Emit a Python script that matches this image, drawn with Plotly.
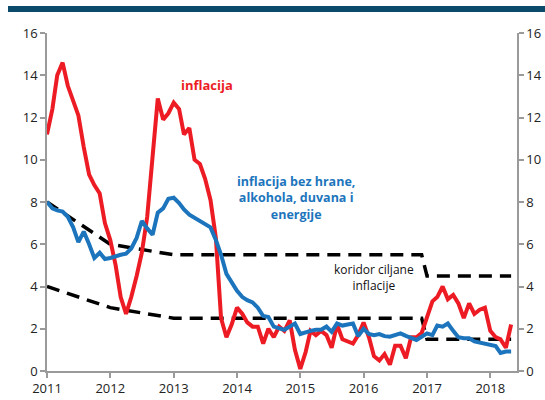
import pandas as pd
import plotly.graph_objects as go

# Monthly data, Jan 2011 - May 2018
inflacija = [11.2, 12.4, 14.0, 14.6, 13.5, 12.8, 12.1, 10.6, 9.3, 8.8, 8.4, 7.0,
             6.2, 5.0, 3.5, 2.7, 3.5, 4.5, 5.6, 7.3, 10.2, 12.9, 11.9, 12.2,
             12.7, 12.4, 11.2, 11.5, 10.0, 9.8, 9.1, 8.1, 6.3, 2.5, 1.6, 2.2,
             3.0, 2.7, 2.3, 2.1, 2.1, 1.3, 2.0, 1.6, 2.1, 1.9, 2.4, 1.0,
             0.1, 0.9, 1.9, 1.7, 1.9, 1.7, 1.1, 2.2, 1.5, 1.4, 1.3, 1.7,
             2.3, 1.6, 0.7, 0.5, 0.8, 0.3, 1.2, 1.2, 0.6, 1.6, 1.6, 1.8,
             2.6, 3.3, 3.5, 4.0, 3.4, 3.6, 3.2, 2.5, 3.2, 2.7, 2.9, 3.0,
             1.9, 1.6, 1.5, 1.1, 2.2]
bazna = [8.0, 7.7, 7.6, 7.55, 7.3, 6.8, 6.1, 6.6, 6.0, 5.35, 5.6, 5.3,
         5.35, 5.45, 5.5, 5.55, 5.8, 6.3, 7.1, 6.75, 6.45, 7.5, 7.7, 8.15,
         8.2, 7.95, 7.65, 7.4, 7.25, 7.15, 7.0, 6.8, 6.2, 5.5, 4.6, 4.2,
         3.8, 3.5, 3.35, 3.25, 3.0, 2.6, 2.55, 2.1, 2.0, 1.95, 2.1, 2.25,
         1.75, 1.85, 1.9, 1.95, 1.95, 2.1, 1.85, 2.25, 2.15, 2.2, 2.25, 1.65,
         2.0, 1.75, 1.7, 1.75, 1.65, 1.62, 1.7, 1.78, 1.66, 1.55, 1.47, 1.62,
         1.78, 1.7, 2.15, 2.1, 2.25, 1.9, 1.6, 1.55, 1.55, 1.4, 1.35, 1.32,
         1.25, 1.18, 0.85, 0.92, 0.92]
months = pd.date_range("2011-01-01", periods=len(inflacija), freq="MS")

koridor_dates = ["2011-01-01", "2012-01-01", "2013-01-01", "2016-12-01", "2017-01-01", "2018-05-01"]
koridor_gornja = [8.0, 6.0, 5.5, 5.5, 4.5, 4.5]
koridor_donja = [4.0, 3.0, 2.5, 2.5, 1.5, 1.5]

year_ticks = ["2011-01-01", "2012-01-01", "2013-01-01", "2014-01-01",
              "2015-01-01", "2016-01-01", "2017-01-01", "2018-01-01"]
year_labels = ["2011", "2012", "2013", "2014", "2015", "2016", "2017", "2018"]
y_ticks = [0, 2, 4, 6, 8, 10, 12, 14, 16]

RED = "#ed1c24"
BLUE = "#1c75bc"
FONT = "Open Sans"

fig = go.Figure()
dash = "13px,8px"
fig.add_trace(go.Scatter(x=koridor_dates, y=koridor_gornja, mode="lines",
                         line=dict(color="black", width=3.5, dash=dash), hoverinfo="skip"))
fig.add_trace(go.Scatter(x=koridor_dates, y=koridor_donja, mode="lines",
                         line=dict(color="black", width=3.5, dash=dash), hoverinfo="skip"))
fig.add_trace(go.Scatter(x=months, y=inflacija, mode="lines",
                         line=dict(color=RED, width=4)))
fig.add_trace(go.Scatter(x=months, y=bazna, mode="lines",
                         line=dict(color=BLUE, width=4)))
# invisible trace for right axis
fig.add_trace(go.Scatter(x=[months[0]], y=[0], yaxis="y2", mode="markers",
                         marker=dict(opacity=0), hoverinfo="skip"))

axis_common = dict(showgrid=False, zeroline=False, showline=True, linecolor="#9a9a9a",
                   linewidth=1.5, ticks="outside", ticklen=5, tickwidth=1.5, automargin=False,
                   tickcolor="#9a9a9a", tickfont=dict(family=FONT, size=13, color="#222"))

fig.update_layout(
    width=545, height=400,
    margin=dict(l=47, r=28, t=33, b=29, autoexpand=False),
    paper_bgcolor="white", plot_bgcolor="white",
    showlegend=False,
    font=dict(family=FONT),
    xaxis=dict(range=["2011-01-01", "2018-06-04"], tickvals=year_ticks, ticktext=year_labels,
               **axis_common),
    yaxis=dict(range=[0, 16], tickvals=y_ticks, **axis_common),
    yaxis2=dict(range=[0, 16], tickvals=y_ticks, overlaying="y", side="right", **axis_common),
)

fig.add_shape(type="rect", xref="paper", yref="paper", x0=-0.083, x1=1.07,
              y0=1.0621, y1=1.0799, fillcolor="#0b4a6a", line=dict(width=0))

fig.add_annotation(x=(207 - 47) / 470, y=(371 - 85) / 338, xref="paper", yref="paper",
                   xanchor="center", yanchor="middle",
                   text="<b>inflacija</b>", showarrow=False,
                   font=dict(family=FONT, size=13, color=RED))
fig.add_annotation(x=(296 - 47) / 470, y=(371 - 198) / 338, xref="paper", yref="paper",
                   xanchor="center", yanchor="middle",
                   text="<b>inflacija bez hrane,<br>alkohola, duvana i<br>energije</b>",
                   showarrow=False, align="center",
                   font=dict(family=FONT, size=12.5, color=BLUE))
fig.add_annotation(x=(374 - 47) / 470, y=(371 - 277) / 338, xref="paper", yref="paper",
                   xanchor="center", yanchor="middle",
                   text="koridor ciljane<br>inflacije", showarrow=False, align="center",
                   font=dict(family=FONT, size=12, color="#111"))

fig.write_html("out.html", config={"displayModeBar": False},
               post_script="document.body.style.margin='0';document.body.style.overflow='hidden';")
